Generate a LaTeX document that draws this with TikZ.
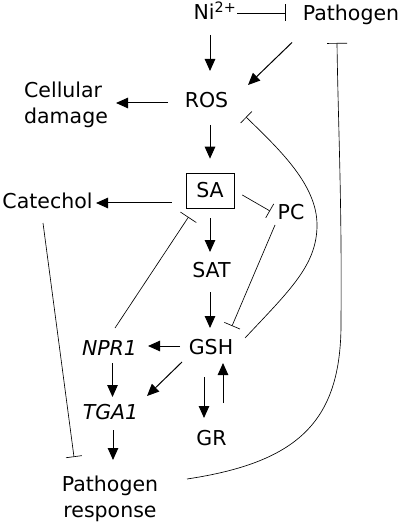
\documentclass[tikz,border=0pt]{standalone}
\usepackage{fontspec}
\setmainfont{DejaVu Sans}
\usetikzlibrary{arrows.meta,calc}
\begin{document}
\begin{tikzpicture}[x=1pt,y=-1pt,
  lbl/.style={inner sep=0pt, anchor=base, font=\fontsize{20.5}{26}\selectfont},
  two/.style={lbl, anchor=center},
  act/.style={line width=1pt, -{Triangle[length=12pt,width=10.5pt]}},
  inh/.style={line width=0.65pt, -{Bar[width=17pt,line width=0.65pt]}},
]
\useasboundingbox[fill=white] (0,0) rectangle (402,526);
% nodes
\node[lbl] (ni) at (215,20) {Ni\textsuperscript{2+}};
\node[lbl] (path) at (351,20.5) {Pathogen};
\node[lbl] (ros) at (206.5,108) {ROS};
\node[two, align=left] (cell) at (66,104.5) {Cellular\\damage};
\node[draw, line width=0.6pt, minimum width=48pt, minimum height=35pt, inner sep=0pt,
      font=\fontsize{20.5}{26}\selectfont] (sa) at (210,190.5) {SA};
\node[lbl] (cat) at (47.5,208.5) {Catechol};
\node[lbl] (pc) at (291,220) {PC};
\node[lbl] (sat) at (211.5,277) {SAT};
\node[lbl] (gsh) at (211,354) {GSH};
\node[lbl] (npr) at (109.5,355) {\itshape NPR1};
\node[lbl] (tga) at (110.5,419) {\itshape TGA1};
\node[lbl] (gr) at (211.5,445) {GR};
\node[two, align=center] (resp) at (110,499) {Pathogen\\response};
% activating arrows
\draw[act] ($(ni.base)+(-5,15)$) -- ($(ros.base)+(3.5,-37)$);
\draw[act] ($(path.base)+(-59,22)$) -- ($(ros.base)+(41.5,-23)$);
\draw[act] ($(ros.base)+(-38.5,-5)$) -- ($(cell.center)+(50,-1.5)$);
\draw[act] ($(ros.base)+(3.5,17)$) -- ($(sa.north)+(0,-14)$);
\draw[act] ($(sa.west)+(-14,12.5)$) -- ($(cat.base)+(48.5,-5.5)$);
\draw[act] ($(sa.south)+(0,10)$) -- ($(sat.base)+(-1.5,-25)$);
\draw[act] ($(sat.base)+(-1.5,15)$) -- ($(gsh.base)+(-1,-26)$);
\draw[act] ($(gsh.base)+(-31,-8)$) -- ($(npr.base)+(38.5,-9)$);
\draw[act] ($(npr.base)+(3,8)$) -- ($(tga.base)+(2,-22)$);
\draw[act] ($(gsh.base)+(-29,8)$) -- ($(tga.base)+(36.5,-23)$);
\draw[act] ($(gsh.base)+(-7,23)$) -- ($(gr.base)+(-7.5,-27)$);
\draw[act] ($(gr.base)+(11.5,-42)$) -- ($(gsh.base)+(12,9)$);
\draw[act] ($(tga.base)+(2.5,11)$) -- ($(resp.center)+(3,-39)$);
% inhibiting connectors
\draw[inh] ($(ni.base)+(22,-7)$) -- ($(path.base)+(-65,-7.5)$);
\draw[inh, -{Bar[width=16pt,line width=0.65pt]}] ($(sa.east)+(8,4.5)$) -- ($(pc.base)+(-21,-9)$);
\draw[inh] ($(pc.base)+(-16,5)$) -- ($(gsh.base)+(21,-28)$);
\draw[inh, -{Bar[width=19pt,line width=0.65pt]}] ($(npr.base)+(5.5,-27)$) -- ($(sa.center)+(-21.5,26.5)$);
\draw[inh, -{Bar[width=16pt,line width=0.65pt]}] ($(cat.base)+(-4.5,14.5)$) -- ($(resp.center)+(-36,-42)$);
\draw[inh, -{Bar[width=16pt,line width=0.65pt]}] ($(gsh.base)+(34,-16)$)
   .. controls (290,290) and (317,265) .. (317,225)
   .. controls (317,185) and (280,150) .. ($(ros.base)+(39.5,9)$);
\draw[inh, -{Bar[width=20pt,line width=0.65pt]}] ($(resp.center)+(77,-20)$)
   .. controls (300,462) and (342,420) .. (341,320)
   .. controls (342,200) and (338,120) .. ($(path.base)+(-14,22.5)$);
\end{tikzpicture}
\end{document}
